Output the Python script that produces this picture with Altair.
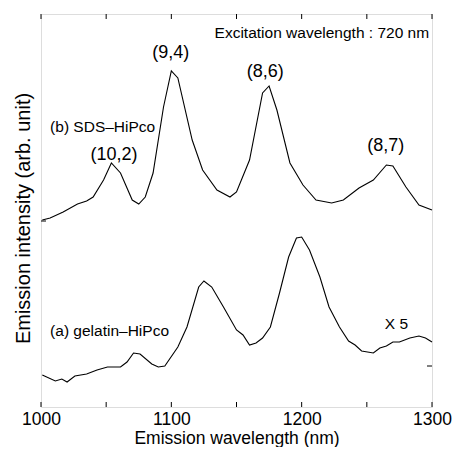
import altair as alt
import pandas as pd

# SDS-HiPco spectrum (b) — wavelength (nm), intensity (arb., offset)
sds_wl = [1001, 1007, 1017, 1028, 1035, 1040, 1048, 1054, 1061, 1070, 1075, 1080,
          1086, 1094, 1100, 1105, 1116, 1124, 1135, 1145, 1150, 1160, 1170, 1175,
          1181, 1191, 1201, 1211, 1223, 1232, 1244, 1255, 1265, 1270, 1280, 1290, 1300]
sds_int = [187, 189, 195, 203, 206, 210, 227, 244, 234, 207, 203, 210,
           234, 300, 336, 329, 267, 237, 217, 210, 215, 247, 314, 321,
           297, 244, 222, 207, 204, 207, 219, 227, 242, 241, 220, 202, 197]

# gelatin-HiPco spectrum (a) — wavelength (nm), intensity (x5, arb.)
gel_wl = [1001, 1011, 1016, 1020, 1026, 1035, 1043, 1051, 1061, 1066, 1071, 1076,
          1085, 1090, 1095, 1105, 1112, 1121, 1125, 1131, 1140, 1150, 1155, 1160,
          1165, 1170, 1176, 1183, 1190, 1196, 1200, 1206, 1214, 1221, 1229, 1236,
          1241, 1246, 1255, 1260, 1265, 1270, 1275, 1283, 1290, 1295, 1300]
gel_int = [32, 26, 28, 25, 31, 33, 37, 40, 40, 45, 54, 53,
           43, 40, 41, 60, 80, 120, 126, 120, 100, 77, 72, 62,
           64, 69, 80, 114, 150, 169, 170, 157, 130, 100, 80, 66,
           62, 56, 54, 59, 61, 65, 65, 69, 71, 69, 65]

# annotations
peak_labels = ["(10,2)", "(9,4)", "(8,6)", "(8,7)"]
peak_x = [1056, 1099.5, 1172, 1264.5]
peak_y = [252, 354, 335, 261]

x_tick_values = [1000, 1050, 1100, 1150, 1200, 1250, 1300]
x_label_values = [1000, 1100, 1200, 1300]
baseline_sds = 186
baseline_gel = 41

X_MIN, X_MAX = 1000, 1300
Y_MAX = 393
W, H = 391, 393
TICK = 5  # px
tick_nm = TICK * (X_MAX - X_MIN) / W

xs = alt.Scale(domain=[X_MIN, X_MAX], nice=False, zero=False)
ys = alt.Scale(domain=[0, Y_MAX], nice=False, zero=False)

df = pd.DataFrame({
    "wl": sds_wl + gel_wl,
    "inten": sds_int + gel_int,
    "series": ["SDS"] * len(sds_wl) + ["gelatin"] * len(gel_wl),
})

font = "Liberation Sans"

base = alt.Chart(df)
lines = base.mark_line(color="black", strokeWidth=1.1).encode(
    x=alt.X("wl:Q", scale=xs,
            axis=alt.Axis(title="Emission wavelength (nm)", values=x_label_values,
                          format="d", ticks=False, domain=False, grid=False,
                          tickSize=0, labelFontSize=17.5, labelPadding=3,
                          titleFontSize=17.5, titleBaseline="alphabetic",
                          titleY=36.3, titleX=W / 2, titleAlign="center",
                          labelColor="black", titleColor="black",
                          titleFontWeight="normal", labelFont=font,
                          titleFont=font, labelFlush=False)),
    y=alt.Y("inten:Q", scale=ys,
            axis=alt.Axis(title="Emission intensity (arb. unit)", labels=False,
                          ticks=False, domain=False, grid=False, tickSize=0,
                          titleFontSize=20, titleBaseline="alphabetic",
                          titleAngle=270, titleX=-11.7, titleY=204,
                          titleAlign="center", titleColor="black",
                          titleFontWeight="normal", titleFont=font)),
    detail="series:N",
)

# inward tick marks
bt = pd.DataFrame({"x": x_tick_values, "y0": [0] * len(x_tick_values),
                   "y1": [TICK] * len(x_tick_values)})
tt = pd.DataFrame({"x": x_tick_values, "y0": [Y_MAX] * len(x_tick_values),
                   "y1": [Y_MAX - TICK] * len(x_tick_values)})
bottom_ticks = alt.Chart(bt).mark_rule(color="black", strokeWidth=1).encode(
    x=alt.X("x:Q", scale=xs), y=alt.Y("y0:Q", scale=ys), y2="y1:Q")
top_ticks = alt.Chart(tt).mark_rule(color="black", strokeWidth=1).encode(
    x=alt.X("x:Q", scale=xs), y=alt.Y("y0:Q", scale=ys), y2="y1:Q")
st = pd.DataFrame({"x0": [X_MIN, X_MAX], "x1": [X_MIN + tick_nm, X_MAX - tick_nm],
                   "y": [baseline_sds, baseline_gel]})
side_ticks = alt.Chart(st).mark_rule(color="black", strokeWidth=1).encode(
    x=alt.X("x0:Q", scale=xs), x2="x1:Q", y=alt.Y("y:Q", scale=ys))

pk = pd.DataFrame({"x": peak_x, "y": peak_y, "t": peak_labels})
peaks = alt.Chart(pk).mark_text(font=font, fontSize=18, align="center",
                                baseline="middle", color="black").encode(
    x=alt.X("x:Q", scale=xs), y=alt.Y("y:Q", scale=ys), text="t:N")

lab = pd.DataFrame({"x": [1007, 1007], "y": [280, 76],
                    "t": ["(b) SDS\u2013HiPco", "(a) gelatin\u2013HiPco"]})
labels = alt.Chart(lab).mark_text(font=font, fontSize=15.5, align="left",
                                  baseline="middle", color="black").encode(
    x=alt.X("x:Q", scale=xs), y=alt.Y("y:Q", scale=ys), text="t:N")

x5 = pd.DataFrame({"x": [1272.7], "y": [83], "t": ["X 5"]})
x5_text = alt.Chart(x5).mark_text(font=font, fontSize=15.5, align="center",
                                  baseline="middle", color="black").encode(
    x=alt.X("x:Q", scale=xs), y=alt.Y("y:Q", scale=ys), text="t:N")

ex = pd.DataFrame({"x": [1297.8], "y": [374], "t": ["Excitation wavelength : 720 nm"]})
ex_text = alt.Chart(ex).mark_text(font=font, fontSize=15.5, align="right",
                                  baseline="middle", color="black").encode(
    x=alt.X("x:Q", scale=xs), y=alt.Y("y:Q", scale=ys), text="t:N")

chart = alt.layer(lines, bottom_ticks, top_ticks, side_ticks, peaks, labels,
                  x5_text, ex_text).properties(
    width=W, height=H,
    autosize=alt.AutoSizeParams(type="none"),
    padding={"left": 33, "top": 6, "right": 20, "bottom": 40},
).configure_view(stroke="black", strokeWidth=1.2).configure(background="white")

chart.save("out.html", embed_options={"renderer": "svg", "actions": False})
